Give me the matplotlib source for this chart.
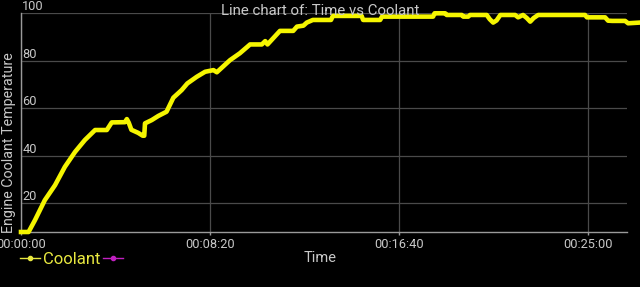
import matplotlib
matplotlib.use("Agg")
import matplotlib.pyplot as plt
from matplotlib.lines import Line2D
from matplotlib.ticker import FuncFormatter

# --- data (seconds, degrees) ---
time_s = [0, 20, 37, 63, 90, 116, 143, 169, 196, 227, 240, 275, 280, 285,
          292, 310, 322, 326, 328, 346, 363, 385, 403, 425, 440, 465, 487,
          509, 518, 553, 579, 606, 637, 646, 652, 685, 720, 730, 747, 756,
          772, 820, 825, 901, 905, 950, 955, 1090, 1094, 1101, 1122, 1126,
          1166, 1170, 1183, 1188, 1232, 1240, 1249, 1258, 1268, 1307, 1315,
          1328, 1338, 1347, 1356, 1368, 1492, 1497, 1545, 1553, 1564, 1598,
          1606, 1637]
coolant = [8.0, 8.0, 13.0, 21.4, 27.7, 35.4, 41.7, 46.7, 50.9, 50.9, 54.1,
           54.2, 55.5, 54.0, 51.0, 49.7, 48.5, 48.5, 53.7, 55.1, 56.8, 58.6,
           64.5, 67.7, 70.5, 73.3, 75.4, 76.1, 75.2, 80.3, 83.2, 86.9, 86.9,
           88.3, 86.9, 92.6, 92.6, 94.4, 94.8, 96.1, 97.2, 97.2, 98.9, 98.9,
           97.2, 97.2, 98.6, 98.6, 100.0, 100.0, 100.0, 99.3, 99.3, 98.6,
           98.6, 99.3, 99.3, 97.5, 96.1, 97.0, 99.3, 99.3, 98.3, 99.3, 98.0,
           96.5, 98.0, 99.3, 99.3, 98.3, 98.3, 96.9, 96.8, 96.8, 95.8, 96.1]
x_ticks = [0, 500, 1000, 1500]
y_ticks = [20, 40, 60, 80, 100]
x_max = 1603

TEXT = "#c8c8c8"
YELLOW = "#f5f500"

plt.rcParams['font.family'] = ['Roboto', 'DejaVu Sans']

fig = plt.figure(figsize=(6.4, 2.87), dpi=100, facecolor="black")
W, H = 640, 287
ax = fig.add_axes([21 / W, (H - 232) / H, (627 - 21) / W, (232 - 13.3) / H])
ax.set_facecolor("black")

ax.plot(time_s, coolant, color=YELLOW, lw=3.3, solid_joinstyle="round",
        clip_on=False, zorder=3)

ax.set_xlim(0, x_max)
ax.set_ylim(min(coolant), max(coolant))
ax.set_xticks(x_ticks)
ax.set_yticks(y_ticks)


def hms(v, pos):
    v = int(round(v))
    return "%02d:%02d:%02d" % (v // 3600, (v % 3600) // 60, v % 60)


ax.xaxis.set_major_formatter(FuncFormatter(hms))
ax.grid(True, color="#4a4a4a", lw=0.9)
for side in ["top", "right"]:
    ax.spines[side].set_visible(False)
for side in ["left", "bottom"]:
    ax.spines[side].set_color("#9a9a9a")
    ax.spines[side].set_linewidth(1.0)

ax.tick_params(axis="x", colors="#9a9a9a", length=2, width=1, labelsize=9.2,
               labelcolor=TEXT, pad=2)
ax.tick_params(axis="y", length=0, labelsize=9.2, labelcolor=TEXT, pad=-1)
for lab in ax.get_yticklabels():
    lab.set_horizontalalignment("left")
    lab.set_verticalalignment("bottom")

fig.text(320 / W, 1 - 11 / H, "Line chart of: Time vs Coolant", color=TEXT,
         fontsize=10.8, ha="center", va="center")
fig.text(320 / W, 1 - 258 / H, "Time", color=TEXT, fontsize=10.5,
         ha="center", va="center")
fig.text(9 / W, 1 - 143 / H, "Engine Coolant Temperature", color=TEXT,
         fontsize=10.3, rotation=90, ha="center", va="center")

handles = [Line2D([0], [0], color="#e8e840", lw=1, marker="o", markersize=3),
           Line2D([0], [0], color="#c020c0", lw=1, marker="o", markersize=3)]
fig.legend(handles, ["Coolant", ""], loc="center left",
           bbox_to_anchor=(12 / W, 1 - 259 / H), ncol=2, frameon=False,
           fontsize=12, labelcolor="#e8e840", handlelength=1.2,
           handletextpad=0.15, columnspacing=0.15, borderpad=0)

fig.savefig("out.png", dpi=100, facecolor="black")
